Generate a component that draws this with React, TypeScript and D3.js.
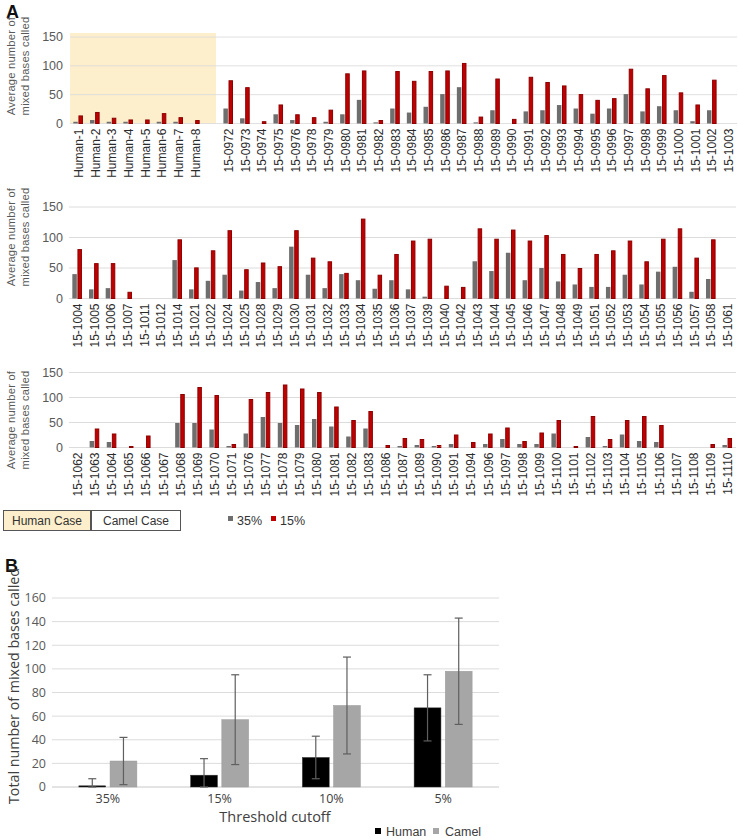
import React from "react";
import * as d3 from "d3";

// ---------- Panel A data ----------
const row1Cats = ["Human-1","Human-2","Human-3","Human-4","Human-5","Human-6","Human-7","Human-8","",
  "15-0972","15-0973","15-0974","15-0975","15-0976","15-0978","15-0979","15-0980","15-0981","15-0982",
  "15-0983","15-0984","15-0985","15-0986","15-0987","15-0988","15-0989","15-0990","15-0991","15-0992",
  "15-0993","15-0994","15-0995","15-0996","15-0997","15-0998","15-0999","15-1000","15-1001","15-1002","15-1003"];
const row1P35 = [3,6,3,3,0,3,3,0,0, 26,9,0,16,6,0,3,16,41,2, 26,19,29,51,63,2,23,0,21,23, 32,26,17,26,51,21,30,23,4,23,0];
const row1P15 = [14,20,10,7,7,18,11,6,0, 75,63,4,33,16,11,24,87,92,6, 91,74,91,92,105,12,78,8,81,72, 66,51,41,44,95,61,84,54,33,76,0];

const row2Cats = ["15-1004","15-1005","15-1006","15-1007","15-1011","15-1012","15-1014","15-1021","15-1022","15-1024",
  "15-1025","15-1028","15-1029","15-1030","15-1031","15-1032","15-1033","15-1034","15-1035","15-1036",
  "15-1037","15-1039","15-1040","15-1042","15-1043","15-1044","15-1045","15-1046","15-1047","15-1048",
  "15-1049","15-1051","15-1052","15-1053","15-1054","15-1055","15-1056","15-1057","15-1058","15-1061"];
const row2P35 = [40,15,17,0,0,0,63,15,29,39, 13,27,17,85,39,17,40,30,16,30, 15,3,0,0,61,45,75,30,50,28, 23,19,19,39,23,44,52,11,32,0];
const row2P15 = [81,58,58,11,0,0,97,51,79,112, 48,59,53,112,67,61,42,131,39,73, 95,98,21,19,115,98,113,95,104,73, 50,73,79,95,61,98,115,67,97,0];

const row3Cats = ["15-1062","15-1063","15-1064","15-1065","15-1066","15-1067","15-1068","15-1069","15-1070","15-1071",
  "15-1076","15-1077","15-1078","15-1079","15-1080","15-1081","15-1082","15-1083","15-1086","15-1087",
  "15-1089","15-1090","15-1091","15-1094","15-1096","15-1097","15-1098","15-1099","15-1100","15-1101",
  "15-1102","15-1103","15-1104","15-1105","15-1106","15-1107","15-1108","15-1109","15-1110"];
const row3P35 = [0,13,11,0,0,0,49,49,36,3, 28,61,49,45,57,42,22,38,0,3, 5,3,7,0,7,17,7,7,28,0, 21,3,26,13,11,0,0,0,5];
const row3P15 = [0,38,28,3,24,0,107,121,105,7, 97,111,126,118,111,82,55,73,5,19, 17,5,26,11,28,40,13,30,55,3, 63,17,55,63,45,0,0,7,19];

const aTicks = [0, 50, 100, 150];
const aSeries = ["35%", "15%"];

// ---------- Panel B data ----------
const bCats = ["35%", "15%", "10%", "5%"];
const bGroups = ["Human", "Camel"];
const bHuman = [1, 10, 25, 67];
const bHumanErr = [6, 14, 18, 28];
const bCamel = [22, 57, 69, 98];
const bCamelErr = [20, 38, 41, 45];
const bTicks = [0, 20, 40, 60, 80, 100, 120, 140, 160];

const GRAY = "#6e6e6e";
const RED = "#c00000";
const RED_EDGE = "#8c0000";
const GRID = "#dcdcdc";
const SHADE = "#fdefcc";
const TXT = "#595959";

type RowSpec = {
  cats: string[]; p35: number[]; p15: number[];
  x0: number; x1: number; yZero: number; yTop: number; titleY: number; shade?: [number, number];
};

const rows: RowSpec[] = [
  { cats: row1Cats, p35: row1P35, p15: row1P15, x0: 70, x1: 737, yZero: 123.5, yTop: 37, titleY: 66, shade: [70, 216] },
  { cats: row2Cats, p35: row2P35, p15: row2P15, x0: 69, x1: 736, yZero: 298.5, yTop: 207, titleY: 237 },
  { cats: row3Cats, p35: row3P35, p15: row3P15, x0: 69, x1: 736, yZero: 447.5, yTop: 372.5, titleY: 420 },
];

function Row({ spec }: { spec: RowSpec }) {
  const x = d3.scaleBand<number>().domain(spec.cats.map((_, i) => i)).range([spec.x0, spec.x1]).padding(0);
  const y = d3.scaleLinear().domain([0, 150]).range([spec.yZero, spec.yTop]);
  const sub = d3.scaleBand<string>().domain(aSeries).range([-5, 4.6]).paddingInner(0.12);
  const font = "'Liberation Sans', Arial, sans-serif";
  return (
    <g>
      {spec.shade && (
        <rect x={spec.shade[0]} y={y(150) - 4} width={spec.shade[1] - spec.shade[0]} height={spec.yZero - y(150) + 4} fill={SHADE} />
      )}
      {aTicks.map((t) => (
        <g key={t}>
          <line x1={spec.x0} x2={spec.x1} y1={y(t)} y2={y(t)} stroke={GRID} strokeWidth={1} opacity={spec.shade ? 0.85 : 1} />
          <text x={63} y={y(t)} dy="0.35em" textAnchor="end" fontSize={12.5} fill={TXT} fontFamily={font}>{t}</text>
        </g>
      ))}
      <text transform={`translate(15,${spec.titleY}) rotate(-90)`} textAnchor="middle" fontSize={11.2} fill={TXT} fontFamily={font} letterSpacing={0.2}>Average number of</text>
      <text transform={`translate(29,${spec.titleY}) rotate(-90)`} textAnchor="middle" fontSize={11.2} fill={TXT} fontFamily={font} letterSpacing={0.2}>mixed bases called</text>
      {spec.cats.map((c, i) => {
        const cx = (x(i) as number) + x.bandwidth() / 2;
        const v35 = spec.p35[i];
        const v15 = spec.p15[i];
        return (
          <g key={i}>
            {v35 > 0 && (
              <rect x={cx + (sub("35%") as number)} y={y(v35)} width={sub.bandwidth()} height={spec.yZero - y(v35)} fill={GRAY} />
            )}
            {v15 > 0 && (
              <rect x={cx + (sub("15%") as number) + 0.5} y={y(v15) + 0.5} width={sub.bandwidth() - 1} height={Math.max(0, spec.yZero - y(v15) - 0.5)} fill={RED} stroke={RED_EDGE} strokeWidth={1} />
            )}
            {c && (
              <text transform={`translate(${cx + 4.5},${spec.yZero + 5}) rotate(-90)`} textAnchor="end" fontSize={12} fill="#2b2b2b" fontFamily={font}>{c}</text>
            )}
          </g>
        );
      })}
    </g>
  );
}

function PanelB() {
  const font = "'Open Sans', 'Liberation Sans', sans-serif";
  const lfont = "'Liberation Sans', Arial, sans-serif";
  const x = d3.scaleBand<string>().domain(bCats).range([52, 499]).padding(0);
  const y = d3.scaleLinear().domain([0, 160]).range([787, 598]);
  const sub = d3.scaleBand<string>().domain(bGroups).range([-29, 29]).paddingInner(0.14);
  const colors: Record<string, string> = { Human: "#000000", Camel: "#a6a6a6" };
  const vals: Record<string, number[]> = { Human: bHuman, Camel: bCamel };
  const errs: Record<string, number[]> = { Human: bHumanErr, Camel: bCamelErr };
  return (
    <g>
      {bTicks.map((t) => (
        <g key={t}>
          <line x1={52} x2={499} y1={y(t)} y2={y(t)} stroke={t === 0 ? "#c8c8c8" : GRID} strokeWidth={1} />
          <text x={46} y={y(t)} dy="0.35em" textAnchor="end" fontSize={12.5} fill={TXT} fontFamily={font}>{t}</text>
        </g>
      ))}
      {bCats.map((c, i) => {
        const cx = (x(c) as number) + x.bandwidth() / 2;
        return (
          <g key={c}>
            {bGroups.map((g) => {
              const v = vals[g][i];
              const e = errs[g][i];
              const bx = cx + (sub(g) as number);
              const ex = bx + sub.bandwidth() / 2;
              const lo = Math.max(0, v - e);
              return (
                <g key={g}>
                  <rect x={bx} y={y(v)} width={sub.bandwidth()} height={787 - y(v)} fill={colors[g]} stroke={g === "Human" ? "#333" : "#9a9a9a"} strokeWidth={0.5} />
                  <line x1={ex} x2={ex} y1={y(v + e)} y2={y(lo)} stroke="#5f5f5f" strokeWidth={1.2} />
                  <line x1={ex - 4} x2={ex + 4} y1={y(v + e)} y2={y(v + e)} stroke="#5f5f5f" strokeWidth={1.2} />
                  <line x1={ex - 4} x2={ex + 4} y1={y(lo)} y2={y(lo)} stroke="#5f5f5f" strokeWidth={1.2} />
                </g>
              );
            })}
            <text x={cx} y={803} textAnchor="middle" fontSize={12.5} fill="#404040" fontFamily={font}>{c}</text>
          </g>
        );
      })}
      <text x={275} y={822} textAnchor="middle" fontSize={14.5} fill="#404040" fontFamily={font}>Threshold cutoff</text>
      <text transform={`translate(19,686) rotate(-90)`} textAnchor="middle" fontSize={15} fill="#404040" fontFamily={font} textLength={236} lengthAdjust="spacingAndGlyphs">Total number of mixed bases called</text>
      <rect x={375} y={828} width={6} height={6} fill="#000" />
      <text x={386} y={836} fontSize={12.5} fill="#404040" fontFamily={lfont}>Human</text>
      <rect x={433} y={828} width={6} height={6} fill="#a6a6a6" />
      <text x={445} y={836} fontSize={12.5} fill="#404040" fontFamily={lfont}>Camel</text>
    </g>
  );
}

export default function App() {
  const font = "'Liberation Sans', Arial, sans-serif";
  return (
    <svg width={738} height={840} style={{ position: "absolute", left: 0, top: 0, background: "#fff" }}>
      <rect width={738} height={840} fill="#fff" />
      <text x={6} y={18} fontSize={18} fontWeight="bold" fill="#111" fontFamily={font}>A</text>
      {rows.map((r, i) => <Row key={i} spec={r} />)}
      {/* Panel A case legend */}
      <rect x={3.5} y={510.5} width={87} height={20} fill={SHADE} stroke="#555" strokeWidth={1} />
      <text x={47} y={525} textAnchor="middle" fontSize={12} fill="#333" fontFamily={font}>Human Case</text>
      <rect x={91.5} y={510.5} width={89} height={20} fill="#fff" stroke="#555" strokeWidth={1} />
      <text x={136} y={525} textAnchor="middle" fontSize={12} fill="#333" fontFamily={font}>Camel Case</text>
      <rect x={228} y={516} width={5} height={5} fill={GRAY} />
      <text x={237} y={525} fontSize={12.5} fill="#333" fontFamily={font}>{aSeries[0]}</text>
      <rect x={271} y={516} width={5} height={5} fill={RED} />
      <text x={280} y={525} fontSize={12.5} fill="#333" fontFamily={font}>{aSeries[1]}</text>
      <text x={5} y={572} fontSize={18} fontWeight="bold" fill="#111" fontFamily={font}>B</text>
      <PanelB />
    </svg>
  );
}
